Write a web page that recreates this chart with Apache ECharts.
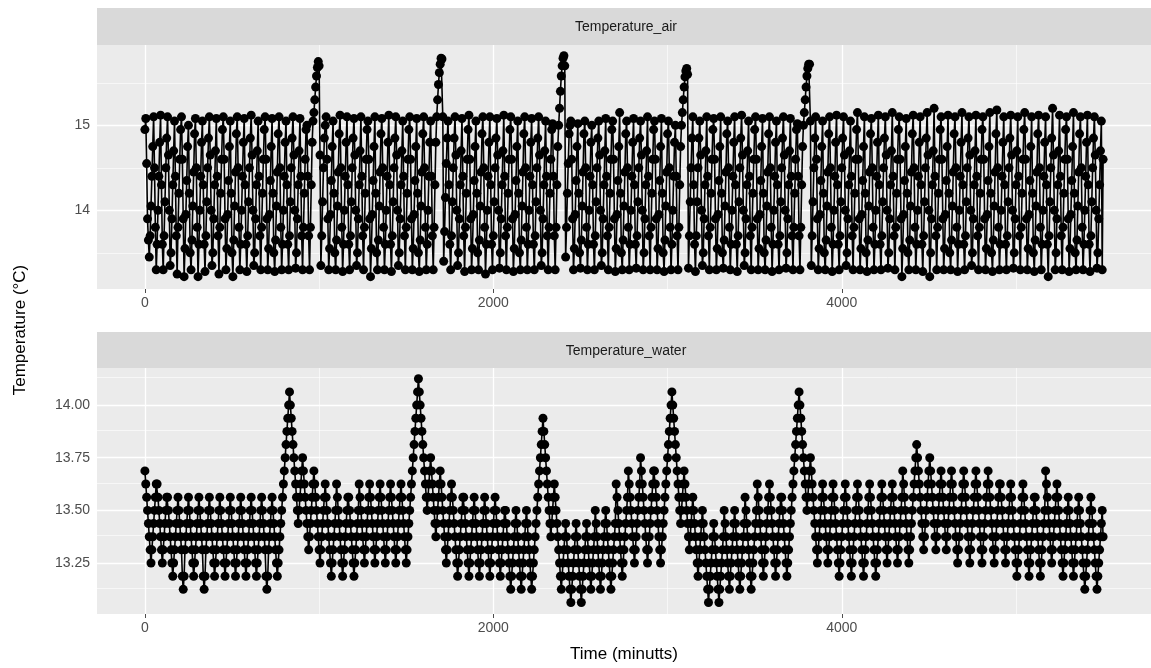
<!DOCTYPE html>
<html>
<head>
<meta charset="utf-8">
<script src="https://cdn.jsdelivr.net/npm/echarts@6/dist/echarts.min.js"></script>
<style>
html,body{margin:0;padding:0;background:#ffffff;}
#chart{width:1151px;height:668px;}
</style>
</head>
<body>
<div id="chart"></div>
<script>
// ---------------- data ----------------
const panelTitles = ['Temperature_air', 'Temperature_water'];
const xAxisTitle = 'Time (minutts)';
const yAxisTitle = 'Temperature (°C)';
const sampleStepMinutes = 5;   // one reading every 5 minutes, starting at minute 0

const airTemperature = [
  14.95, 15.08, 14.55, 13.9, 13.65, 13.45, 13.7, 14.05, 14.4, 14.75,
  15.1, 14.5, 13.8, 13.3, 13.6, 14.0, 14.4, 14.8,  15.12, 14.3, 13.6, 13.3, 13.7, 14.1, 14.5, 14.85,
  15.1, 14.65, 14.0, 13.35, 13.5, 13.9, 14.3, 14.7,  15.05, 14.4, 13.7, 13.25, 13.8, 14.2, 14.6, 14.95,
  15.1, 14.6, 13.9, 13.22, 13.55, 13.95, 14.35, 14.75,  15.0, 14.2, 13.5, 13.3, 13.65, 14.05, 14.45, 14.9,
  15.08, 14.5, 13.8, 13.22, 13.6, 14.0, 14.4, 14.8,  15.05, 14.3, 13.6, 13.28, 13.7, 14.1, 14.5, 14.85,
  15.1, 14.65, 14.0, 13.35, 13.5, 13.9, 14.3, 14.7,  15.08, 14.4, 13.7, 13.25, 13.8, 14.2, 14.6, 14.95,
  15.1, 14.6, 13.9, 13.3, 13.55, 13.95, 14.35, 14.75,  15.05, 14.2, 13.5, 13.22, 13.65, 14.05, 14.45, 14.9,
  15.1, 14.5, 13.8, 13.3, 13.6, 14.0, 14.4, 14.8,  15.08, 14.3, 13.6, 13.28, 13.7, 14.1, 14.5, 14.85,
  15.12, 14.65, 14.0, 13.35, 13.5, 13.9, 14.3, 14.7,  15.05, 14.4, 13.7, 13.3, 13.8, 14.2, 14.6, 14.95,
  15.1, 14.6, 13.9, 13.3, 13.55, 13.95, 14.35, 14.75,  15.08, 14.2, 13.5, 13.28, 13.65, 14.05, 14.45, 14.9,
  15.1, 14.5, 13.8, 13.3, 13.6, 14.0, 14.4, 14.8,  15.05, 14.3, 13.6, 13.3, 13.7, 14.1, 14.5, 14.85,
  15.1, 14.65, 14.0, 13.32, 13.5, 13.9, 14.3, 14.7,  15.08, 14.4, 13.7, 13.3, 13.8, 14.2, 14.6, 14.95,
  // first defrost peak (~990 min)
  15.0, 14.4, 13.7, 13.3, 13.8, 14.3, 14.8, 15.05, 15.15, 15.3, 15.45, 15.58, 15.68, 15.75, 15.7,
  14.65, 13.35, 13.7, 14.1, 14.5, 14.85, 15.0,
  15.1, 14.6, 13.9, 13.3, 13.55, 13.95, 14.35, 14.75,  15.05, 14.2, 13.5, 13.3, 13.65, 14.05, 14.45, 14.9,
  15.12, 14.5, 13.8, 13.28, 13.6, 14.0, 14.4, 14.8,  15.1, 14.3, 13.6, 13.3, 13.7, 14.1, 14.5, 14.85,
  15.08, 14.65, 14.0, 13.35, 13.5, 13.9, 14.3, 14.7,  15.1, 14.4, 13.7, 13.3, 13.8, 14.2, 14.6, 14.95,
  15.05, 14.6, 13.9, 13.22, 13.55, 13.95, 14.35, 14.75,  15.1, 14.2, 13.5, 13.3, 13.65, 14.05, 14.45, 14.9,
  15.08, 14.5, 13.8, 13.3, 13.6, 14.0, 14.4, 14.8,  15.12, 14.3, 13.6, 13.28, 13.7, 14.1, 14.5, 14.85,
  15.1, 14.65, 14.0, 13.35, 13.5, 13.9, 14.3, 14.7,  15.05, 14.4, 13.7, 13.3, 13.8, 14.2, 14.6, 14.95,
  15.1, 14.6, 13.9, 13.3, 13.55, 13.95, 14.35, 14.75,  15.08, 14.2, 13.5, 13.28, 13.65, 14.05, 14.45, 14.9,
  15.1, 14.5, 13.8, 13.3, 13.6, 14.0, 14.4, 14.8,
  // second peak (~1700 min)
  15.05, 14.4, 13.7, 13.3, 13.8, 14.3, 14.8, 15.1, 15.3, 15.48, 15.62, 15.72, 15.79, 15.78,
  15.1, 13.4, 13.75, 14.15, 14.55, 14.85,
  15.05, 14.3, 13.6, 13.3, 13.7, 14.1, 14.5, 14.85,  15.1, 14.65, 14.0, 13.35, 13.5, 13.9, 14.3, 14.7,
  15.08, 14.4, 13.7, 13.28, 13.8, 14.2, 14.6, 14.95,  15.12, 14.6, 13.9, 13.3, 13.55, 13.95, 14.35, 14.75,
  15.05, 14.2, 13.5, 13.3, 13.65, 14.05, 14.45, 14.9,  15.1, 14.5, 13.8, 13.25, 13.6, 14.0, 14.4, 14.8,
  15.1, 14.3, 13.6, 13.3, 13.7, 14.1, 14.5, 14.85,  15.08, 14.65, 14.0, 13.32, 13.5, 13.9, 14.3, 14.7,
  15.12, 14.4, 13.7, 13.3, 13.8, 14.2, 14.6, 14.95,  15.1, 14.6, 13.9, 13.28, 13.55, 13.95, 14.35, 14.75,
  15.05, 14.2, 13.5, 13.3, 13.65, 14.05, 14.45, 14.9,  15.1, 14.5, 13.8, 13.3, 13.6, 14.0, 14.4, 14.8,
  15.08, 14.3, 13.6, 13.3, 13.7, 14.1, 14.5, 14.85,  15.1, 14.65, 14.0, 13.35, 13.5, 13.9, 14.3, 14.7,
  15.05, 14.4, 13.7, 13.3, 13.8, 14.2, 14.6, 14.95,
  // third peak (~2405 min)
  15.02, 14.4, 13.7, 13.3, 13.8, 14.3, 14.75, 15.0, 15.2, 15.4, 15.58, 15.7, 15.79, 15.82, 15.7,
  13.45, 13.8, 14.2, 14.55, 14.9, 15.0,
  15.05, 14.6, 13.9, 13.3, 13.55, 13.95, 14.35, 14.75,  15.02, 14.2, 13.5, 13.32, 13.65, 14.05, 14.45, 14.9,
  15.05, 14.5, 13.8, 13.3, 13.6, 14.0, 14.4, 14.8,  15.0, 14.3, 13.6, 13.3, 13.7, 14.1, 14.5, 14.85,
  15.05, 14.65, 14.0, 13.35, 13.5, 13.9, 14.3, 14.7,  15.08, 14.4, 13.7, 13.3, 13.8, 14.2, 14.6, 14.95,
  15.05, 14.6, 13.9, 13.28, 13.55, 13.95, 14.35, 14.75,  15.15, 14.2, 13.5, 13.3, 13.65, 14.05, 14.45, 14.9,
  15.05, 14.5, 13.8, 13.3, 13.6, 14.0, 14.4, 14.8,  15.08, 14.3, 13.6, 13.32, 13.7, 14.1, 14.5, 14.85,
  15.05, 14.65, 14.0, 13.3, 13.5, 13.9, 14.3, 14.7,  15.1, 14.4, 13.7, 13.3, 13.8, 14.2, 14.6, 14.95,
  15.05, 14.6, 13.9, 13.3, 13.55, 13.95, 14.35, 14.75,  15.08, 14.2, 13.5, 13.28, 13.65, 14.05, 14.45, 14.9,
  15.05, 14.5, 13.8, 13.3, 13.6, 14.0, 14.4, 14.8,
  // fourth peak (~3110 min)
  15.0, 14.4, 13.7, 13.3, 13.8, 14.3, 14.75, 15.0, 15.15, 15.3, 15.45, 15.57, 15.64, 15.67, 15.6,
  13.32, 13.7, 14.1, 14.5, 14.85,
  15.1, 14.3, 13.6, 13.28, 13.7, 14.1, 14.5, 14.85,  15.05, 14.65, 14.0, 13.35, 13.5, 13.9, 14.3, 14.7,
  15.1, 14.4, 13.7, 13.3, 13.8, 14.2, 14.6, 14.95,  15.08, 14.6, 13.9, 13.3, 13.55, 13.95, 14.35, 14.75,
  15.1, 14.2, 13.5, 13.32, 13.65, 14.05, 14.45, 14.9,  15.05, 14.5, 13.8, 13.3, 13.6, 14.0, 14.4, 14.8,
  15.1, 14.3, 13.6, 13.28, 13.7, 14.1, 14.5, 14.85,  15.12, 14.65, 14.0, 13.35, 13.5, 13.9, 14.3, 14.7,
  15.05, 14.4, 13.7, 13.3, 13.8, 14.2, 14.6, 14.95,  15.1, 14.6, 13.9, 13.3, 13.55, 13.95, 14.35, 14.75,
  15.08, 14.2, 13.5, 13.3, 13.65, 14.05, 14.45, 14.9,  15.1, 14.5, 13.8, 13.28, 13.6, 14.0, 14.4, 14.8,
  15.05, 14.3, 13.6, 13.3, 13.7, 14.1, 14.5, 14.85,  15.1, 14.65, 14.0, 13.32, 13.5, 13.9, 14.3, 14.7,
  15.08, 14.4, 13.7, 13.3, 13.8, 14.2, 14.6, 14.95,
  // fifth peak (~3815 min)
  15.02, 14.4, 13.7, 13.3, 13.8, 14.3, 14.75, 15.0, 15.15, 15.3, 15.45, 15.58, 15.67, 15.72, 15.72,
  15.05, 13.35, 13.7, 14.1, 14.5, 14.85,
  15.1, 14.6, 13.9, 13.3, 13.55, 13.95, 14.35, 14.75,  15.05, 14.2, 13.5, 13.3, 13.65, 14.05, 14.45, 14.9,
  15.1, 14.5, 13.8, 13.28, 13.6, 14.0, 14.4, 14.8,  15.12, 14.3, 13.6, 13.3, 13.7, 14.1, 14.5, 14.85,
  15.1, 14.65, 14.0, 13.35, 13.5, 13.9, 14.3, 14.7,  15.05, 14.4, 13.7, 13.3, 13.8, 14.2, 14.6, 14.95,
  15.15, 14.6, 13.9, 13.3, 13.55, 13.95, 14.35, 14.75,  15.1, 14.2, 13.5, 13.28, 13.65, 14.05, 14.45, 14.9,
  15.08, 14.5, 13.8, 13.3, 13.6, 14.0, 14.4, 14.8,  15.12, 14.3, 13.6, 13.3, 13.7, 14.1, 14.5, 14.85,
  15.1, 14.65, 14.0, 13.32, 13.5, 13.9, 14.3, 14.7,  15.15, 14.4, 13.7, 13.3, 13.8, 14.2, 14.6, 14.95,
  15.1, 14.6, 13.9, 13.22, 13.55, 13.95, 14.35, 14.75,  15.08, 14.2, 13.5, 13.3, 13.65, 14.05, 14.45, 14.9,
  15.12, 14.5, 13.8, 13.3, 13.6, 14.0, 14.4, 14.8,  15.1, 14.3, 13.6, 13.28, 13.7, 14.1, 14.5, 14.85,
  15.15, 14.65, 14.0, 13.22, 13.5, 13.9, 14.3, 14.7,  15.2, 14.4, 13.7, 13.3, 13.8, 14.2, 14.6, 14.95,
  15.1, 14.6, 13.9, 13.3, 13.55, 13.95, 14.35, 14.75,  15.12, 14.2, 13.5, 13.3, 13.65, 14.05, 14.45, 14.9,
  15.1, 14.5, 13.8, 13.28, 13.6, 14.0, 14.4, 14.8,  15.15, 14.3, 13.6, 13.3, 13.7, 14.1, 14.5, 14.85,
  15.1, 14.65, 14.0, 13.35, 13.5, 13.9, 14.3, 14.7,  15.12, 14.4, 13.7, 13.3, 13.8, 14.2, 14.6, 14.95,
  15.1, 14.6, 13.9, 13.3, 13.55, 13.95, 14.35, 14.75,  15.15, 14.2, 13.5, 13.28, 13.65, 14.05, 14.45, 14.9,
  15.18, 14.5, 13.8, 13.3, 13.6, 14.0, 14.4, 14.8,  15.1, 14.3, 13.6, 13.3, 13.7, 14.1, 14.5, 14.85,
  15.12, 14.65, 14.0, 13.32, 13.5, 13.9, 14.3, 14.7,  15.1, 14.4, 13.7, 13.3, 13.8, 14.2, 14.6, 14.95,
  15.15, 14.6, 13.9, 13.3, 13.55, 13.95, 14.35, 14.75,  15.1, 14.2, 13.5, 13.28, 13.65, 14.05, 14.45, 14.9,
  15.12, 14.5, 13.8, 13.3, 13.6, 14.0, 14.4, 14.8,  15.1, 14.3, 13.6, 13.22, 13.7, 14.1, 14.5, 14.85,
  15.2, 14.65, 14.0, 13.3, 13.5, 13.9, 14.3, 14.7,  15.12, 14.4, 13.7, 13.3, 13.8, 14.2, 14.6, 14.95,
  15.1, 14.6, 13.9, 13.28, 13.55, 13.95, 14.35, 14.75,  15.15, 14.2, 13.5, 13.3, 13.65, 14.05, 14.45, 14.9,
  15.1, 14.5, 13.8, 13.3, 13.6, 14.0, 14.4, 14.8,  15.12, 14.3, 13.6, 13.28, 13.7, 14.1, 14.5, 14.85,
  15.1, 14.65, 14.0, 13.32, 13.5, 13.9, 14.3, 14.7,
  15.05, 13.3, 14.6
];

const waterTemperature = [
  13.6875, 13.625, 13.5625, 13.5, 13.4375, 13.375, 13.3125, 13.25, 13.3125, 13.375, 13.4375, 13.5, 13.5625, 13.625,
  13.625, 13.5625, 13.5, 13.4375, 13.375, 13.3125, 13.25, 13.3125, 13.375, 13.4375, 13.5, 13.5625,
  13.5625, 13.5, 13.4375, 13.375, 13.3125, 13.25, 13.1875, 13.25, 13.3125, 13.375, 13.4375, 13.5,
  13.5625, 13.5, 13.4375, 13.375, 13.3125, 13.1875, 13.125, 13.1875, 13.3125, 13.375, 13.4375, 13.5,
  13.5625, 13.5, 13.4375, 13.375, 13.3125, 13.25, 13.1875, 13.25, 13.3125, 13.375, 13.4375, 13.5,
  13.5625, 13.5, 13.4375, 13.375, 13.3125, 13.1875, 13.125, 13.1875, 13.3125, 13.375, 13.4375, 13.5,
  13.5625, 13.5, 13.4375, 13.375, 13.3125, 13.25, 13.1875, 13.25, 13.3125, 13.375, 13.4375, 13.5,
  13.5625, 13.5, 13.4375, 13.375, 13.3125, 13.25, 13.1875, 13.25, 13.3125, 13.375, 13.4375, 13.5,
  13.5625, 13.5, 13.4375, 13.375, 13.3125, 13.25, 13.1875, 13.25, 13.3125, 13.375, 13.4375, 13.5,
  13.5625, 13.5, 13.4375, 13.375, 13.3125, 13.25, 13.1875, 13.25, 13.3125, 13.375, 13.4375, 13.5,
  13.5625, 13.5, 13.4375, 13.375, 13.3125, 13.25, 13.1875, 13.25, 13.3125, 13.375, 13.4375, 13.5,
  13.5625, 13.5, 13.4375, 13.375, 13.3125, 13.1875, 13.125, 13.1875, 13.3125, 13.375, 13.4375, 13.5,
  13.5625, 13.5, 13.4375, 13.375, 13.3125, 13.25, 13.1875, 13.25, 13.3125, 13.375, 13.4375, 13.5,
  // first peak (~830 min)
  13.5625, 13.625, 13.6875, 13.75, 13.8125, 13.875, 13.9375, 14, 14.0625,
  14, 13.9375, 13.875, 13.8125, 13.75, 13.6875, 13.625, 13.5625, 13.5, 13.4375,
  13.5, 13.5625, 13.625, 13.6875, 13.75,
  13.6875, 13.625, 13.5625, 13.5, 13.4375, 13.375, 13.3125,
  13.375, 13.4375, 13.5, 13.5625, 13.625, 13.6875,
  13.625, 13.5625, 13.5, 13.4375, 13.375, 13.3125, 13.25,
  13.3125, 13.375, 13.4375, 13.5, 13.5625, 13.625,
  13.5625, 13.5, 13.4375, 13.375, 13.3125, 13.25, 13.1875, 13.25, 13.3125, 13.375, 13.4375, 13.5,
  13.625, 13.5625, 13.5, 13.4375, 13.375, 13.3125, 13.25, 13.1875, 13.25, 13.3125, 13.375, 13.4375, 13.5, 13.5625,
  13.5625, 13.5, 13.4375, 13.375, 13.3125, 13.25, 13.1875, 13.25, 13.3125, 13.375, 13.4375, 13.5,
  13.625, 13.5625, 13.5, 13.4375, 13.375, 13.3125, 13.25, 13.3125, 13.375, 13.4375, 13.5, 13.5625,
  13.625, 13.5625, 13.5, 13.4375, 13.375, 13.3125, 13.25, 13.3125, 13.375, 13.4375, 13.5, 13.5625,
  13.625, 13.5625, 13.5, 13.4375, 13.375, 13.3125, 13.25, 13.3125, 13.375, 13.4375, 13.5, 13.5625,
  13.625, 13.5625, 13.5, 13.4375, 13.375, 13.3125, 13.25, 13.3125, 13.375, 13.4375, 13.5, 13.5625,
  13.625, 13.5625, 13.5, 13.4375, 13.375, 13.3125, 13.25, 13.3125, 13.375, 13.4375, 13.5, 13.5625,
  // second peak (~1570 min)
  13.625, 13.6875, 13.75, 13.8125, 13.875, 13.9375, 14, 14.0625, 14.125,
  14.0625, 14, 13.9375, 13.875, 13.8125, 13.75, 13.6875, 13.625, 13.5625, 13.5,
  13.5625, 13.625, 13.6875, 13.75,
  13.6875, 13.625, 13.5625, 13.5, 13.4375, 13.375,
  13.4375, 13.5, 13.5625, 13.625, 13.6875,
  13.625, 13.5625, 13.5, 13.4375, 13.375, 13.3125, 13.25,
  13.3125, 13.375, 13.4375, 13.5, 13.5625,
  13.625, 13.5625, 13.5, 13.4375, 13.375, 13.3125, 13.25, 13.1875, 13.25, 13.3125, 13.375, 13.4375, 13.5, 13.5625,
  13.5625, 13.5, 13.4375, 13.375, 13.3125, 13.25, 13.1875, 13.25, 13.3125, 13.375, 13.4375, 13.5,
  13.5625, 13.5, 13.4375, 13.375, 13.3125, 13.25, 13.1875, 13.25, 13.3125, 13.375, 13.4375, 13.5,
  13.5625, 13.5, 13.4375, 13.375, 13.3125, 13.25, 13.1875, 13.25, 13.3125, 13.375, 13.4375, 13.5,
  13.5625, 13.5, 13.4375, 13.375, 13.3125, 13.25, 13.1875, 13.25, 13.3125, 13.375, 13.4375, 13.5,
  13.5, 13.4375, 13.375, 13.3125, 13.25, 13.1875, 13.125, 13.1875, 13.25, 13.3125, 13.375, 13.4375,
  13.5, 13.4375, 13.375, 13.3125, 13.25, 13.1875, 13.125, 13.1875, 13.25, 13.3125, 13.375, 13.4375,
  13.5, 13.4375, 13.375, 13.3125, 13.25, 13.1875, 13.125, 13.1875, 13.25, 13.3125, 13.375, 13.4375,
  // third peak (~2285 min)
  13.5, 13.5625, 13.625, 13.6875, 13.75, 13.8125, 13.875, 13.9375,
  13.875, 13.8125, 13.75, 13.6875, 13.625, 13.5625, 13.5, 13.4375, 13.375,
  13.4375, 13.5, 13.5625, 13.625,
  13.5625, 13.5, 13.4375, 13.375, 13.3125, 13.25, 13.1875, 13.125,
  13.1875, 13.25, 13.3125, 13.375,
  13.4375, 13.375, 13.3125, 13.25, 13.1875, 13.125, 13.0625, 13.125, 13.1875, 13.25, 13.3125, 13.375,
  13.4375, 13.375, 13.3125, 13.25, 13.1875, 13.125, 13.0625, 13.125, 13.1875, 13.25, 13.3125, 13.375,
  13.4375, 13.375, 13.3125, 13.25, 13.1875, 13.125, 13.1875, 13.25, 13.3125, 13.375,
  13.5, 13.4375, 13.375, 13.3125, 13.25, 13.1875, 13.125, 13.1875, 13.25, 13.3125, 13.375, 13.4375,
  13.5, 13.4375, 13.375, 13.3125, 13.25, 13.1875, 13.125, 13.1875, 13.25, 13.3125, 13.375, 13.4375,
  13.625, 13.5625, 13.5, 13.4375, 13.375, 13.3125, 13.25, 13.1875, 13.25, 13.3125, 13.375, 13.4375, 13.5, 13.5625,
  13.6875, 13.625, 13.5625, 13.5, 13.4375, 13.375, 13.3125, 13.25, 13.3125, 13.375, 13.4375, 13.5, 13.5625, 13.625,
  13.75, 13.6875, 13.625, 13.5625, 13.5, 13.4375, 13.375, 13.3125, 13.25, 13.3125, 13.375, 13.4375, 13.5, 13.5625, 13.625, 13.6875,
  13.6875, 13.625, 13.5625, 13.5, 13.4375, 13.375, 13.3125, 13.25, 13.3125, 13.375, 13.4375, 13.5, 13.5625, 13.625,
  // fourth peak (~3025 min)
  13.6875, 13.75, 13.8125, 13.875, 13.9375, 14, 14.0625,
  14, 13.9375, 13.875, 13.8125, 13.75, 13.6875, 13.625, 13.5625, 13.5, 13.4375,
  13.5, 13.5625, 13.625, 13.6875,
  13.625, 13.5625, 13.5, 13.4375, 13.375, 13.3125,
  13.375, 13.4375, 13.5, 13.5625,
  13.5, 13.4375, 13.375, 13.3125, 13.25, 13.1875,
  13.25, 13.3125, 13.375, 13.4375, 13.5,
  13.4375, 13.375, 13.3125, 13.25, 13.1875, 13.125, 13.0625, 13.125, 13.1875, 13.25, 13.3125, 13.375,
  13.4375, 13.375, 13.3125, 13.25, 13.1875, 13.125, 13.0625, 13.125, 13.1875, 13.25, 13.3125, 13.375,
  13.5, 13.4375, 13.375, 13.3125, 13.25, 13.1875, 13.125, 13.1875, 13.25, 13.3125, 13.375, 13.4375,
  13.5, 13.4375, 13.375, 13.3125, 13.25, 13.1875, 13.125, 13.1875, 13.25, 13.3125, 13.375, 13.4375,
  13.5625, 13.5, 13.4375, 13.375, 13.3125, 13.25, 13.1875, 13.125, 13.1875, 13.25, 13.3125, 13.375, 13.4375, 13.5,
  13.625, 13.5625, 13.5, 13.4375, 13.375, 13.3125, 13.25, 13.1875, 13.25, 13.3125, 13.375, 13.4375, 13.5, 13.5625,
  13.625, 13.5625, 13.5, 13.4375, 13.375, 13.3125, 13.25, 13.1875, 13.25, 13.3125, 13.375, 13.4375, 13.5, 13.5625,
  13.5625, 13.5, 13.4375, 13.375, 13.3125, 13.25, 13.1875, 13.25, 13.3125, 13.375, 13.4375, 13.5,
  // fifth peak (~3755 min)
  13.5625, 13.625, 13.6875, 13.75, 13.8125, 13.875, 13.9375, 14, 14.0625,
  14, 13.9375, 13.875, 13.8125, 13.75, 13.6875, 13.625, 13.5625, 13.5,
  13.5625, 13.625, 13.6875, 13.75,
  13.6875, 13.625, 13.5625, 13.5, 13.4375, 13.375, 13.3125, 13.25,
  13.3125, 13.375, 13.4375, 13.5, 13.5625,
  13.625, 13.5625, 13.5, 13.4375, 13.375, 13.3125, 13.25, 13.3125, 13.375, 13.4375, 13.5, 13.5625,
  13.625, 13.5625, 13.5, 13.4375, 13.375, 13.3125, 13.25, 13.1875, 13.25, 13.3125, 13.375, 13.4375, 13.5, 13.5625,
  13.625, 13.5625, 13.5, 13.4375, 13.375, 13.3125, 13.25, 13.1875, 13.25, 13.3125, 13.375, 13.4375, 13.5, 13.5625,
  13.625, 13.5625, 13.5, 13.4375, 13.375, 13.3125, 13.25, 13.1875, 13.25, 13.3125, 13.375, 13.4375, 13.5, 13.5625,
  13.625, 13.5625, 13.5, 13.4375, 13.375, 13.3125, 13.25, 13.1875, 13.25, 13.3125, 13.375, 13.4375, 13.5, 13.5625,
  13.625, 13.5625, 13.5, 13.4375, 13.375, 13.3125, 13.25, 13.3125, 13.375, 13.4375, 13.5, 13.5625,
  13.625, 13.5625, 13.5, 13.4375, 13.375, 13.3125, 13.25, 13.3125, 13.375, 13.4375, 13.5, 13.5625,
  13.6875, 13.625, 13.5625, 13.5, 13.4375, 13.375, 13.3125, 13.25, 13.3125, 13.375, 13.4375, 13.5, 13.5625, 13.625,
  // small bump (~4440 min)
  13.6875, 13.75, 13.8125,
  13.75, 13.6875, 13.625, 13.5625, 13.5, 13.4375, 13.375, 13.3125,
  13.375, 13.4375, 13.5, 13.5625, 13.625, 13.6875, 13.75,
  13.6875, 13.625, 13.5625, 13.5, 13.4375, 13.375, 13.3125,
  13.375, 13.4375, 13.5, 13.5625, 13.625,
  13.6875, 13.625, 13.5625, 13.5, 13.4375, 13.375, 13.3125, 13.375, 13.4375, 13.5, 13.5625, 13.625,
  13.6875, 13.625, 13.5625, 13.5, 13.4375, 13.375, 13.3125, 13.25, 13.3125, 13.375, 13.4375, 13.5, 13.5625, 13.625,
  13.6875, 13.625, 13.5625, 13.5, 13.4375, 13.375, 13.3125, 13.25, 13.3125, 13.375, 13.4375, 13.5, 13.5625, 13.625,
  13.6875, 13.625, 13.5625, 13.5, 13.4375, 13.375, 13.3125, 13.25, 13.3125, 13.375, 13.4375, 13.5, 13.5625, 13.625,
  13.6875, 13.625, 13.5625, 13.5, 13.4375, 13.375, 13.3125, 13.25, 13.3125, 13.375, 13.4375, 13.5, 13.5625, 13.625,
  13.625, 13.5625, 13.5, 13.4375, 13.375, 13.3125, 13.25, 13.3125, 13.375, 13.4375, 13.5, 13.5625,
  13.625, 13.5625, 13.5, 13.4375, 13.375, 13.3125, 13.25, 13.1875, 13.25, 13.3125, 13.375, 13.4375, 13.5, 13.5625,
  13.625, 13.5625, 13.5, 13.4375, 13.375, 13.3125, 13.25, 13.1875, 13.25, 13.3125, 13.375, 13.4375, 13.5, 13.5625,
  13.5625, 13.5, 13.4375, 13.375, 13.3125, 13.25, 13.1875, 13.25, 13.3125, 13.375, 13.4375, 13.5,
  13.6875, 13.625, 13.5625, 13.5, 13.4375, 13.375, 13.3125, 13.25, 13.3125, 13.375, 13.4375, 13.5, 13.5625, 13.625,
  13.5625, 13.5, 13.4375, 13.375, 13.3125, 13.25, 13.1875, 13.25, 13.3125, 13.375, 13.4375, 13.5,
  13.5625, 13.5, 13.4375, 13.375, 13.3125, 13.25, 13.1875, 13.25, 13.3125, 13.375, 13.4375, 13.5,
  13.5625, 13.5, 13.4375, 13.375, 13.3125, 13.25, 13.1875, 13.125, 13.1875, 13.25, 13.3125, 13.375, 13.4375, 13.5,
  13.5625, 13.5, 13.4375, 13.375, 13.3125, 13.25, 13.1875, 13.125, 13.1875, 13.25, 13.3125, 13.375, 13.4375, 13.5,
  13.375
];

const xTicks = [0, 2000, 4000];
const xMinorBreaks = [1000, 3000, 5000];
const airYTicks = [14, 15];
const airYMinorBreaks = [13.5, 14.5, 15.5];
const waterYTicks = [13.25, 13.5, 13.75, 14.0];
const waterYMinorBreaks = [13.125, 13.375, 13.625, 13.875, 14.125];

// ---------------- layout / style ----------------
const PANEL_LEFT = 97, PANEL_WIDTH = 1058;
const AIR_TOP = 45, AIR_H = 244;
const WATER_TOP = 368, WATER_H = 246;
const X_MIN = -275, X_MAX = 5775;
const AIR_MIN = 13.075, AIR_MAX = 15.945;
const WATER_MIN = 13.008, WATER_MAX = 14.176;
const FONT = '"Liberation Sans", Arial, sans-serif';
const TICK_COLOR = '#4d4d4d';

function toPairs(values) {
  return values.map((v, i) => [i * sampleStepMinutes, v]);
}

function gridLines(xMajor, xMinor, yMajor, yMinor) {
  const major = { color: '#ffffff', width: 1.3, type: 'solid' };
  const minor = { color: '#ffffff', width: 0.6, type: 'solid' };
  const d = [];
  yMinor.forEach(v => d.push({ yAxis: v, lineStyle: minor }));
  xMinor.forEach(v => d.push({ xAxis: v, lineStyle: minor }));
  yMajor.forEach(v => d.push({ yAxis: v, lineStyle: major }));
  xMajor.forEach(v => d.push({ xAxis: v, lineStyle: major }));
  return d;
}

function xAxisDef(gridIndex, withName) {
  const ax = {
    type: 'value', gridIndex: gridIndex, min: X_MIN, max: X_MAX,
    axisLine: { show: false },
    axisTick: { show: true, customValues: xTicks, length: 4, lineStyle: { color: TICK_COLOR, width: 1 } },
    axisLabel: { show: true, customValues: xTicks, color: TICK_COLOR, fontSize: 14, fontFamily: FONT, margin: 7,
                 formatter: v => String(v) },
    splitLine: { show: false }
  };
  if (withName) {
    ax.name = xAxisTitle;
    ax.nameLocation = 'middle';
    ax.nameGap = 32;
    ax.nameTextStyle = { color: '#000000', fontSize: 17, fontFamily: FONT };
  }
  return ax;
}

function yAxisDef(gridIndex, min, max, ticks, fmt) {
  return {
    type: 'value', gridIndex: gridIndex, min: min, max: max,
    axisLine: { show: false },
    axisTick: { show: true, customValues: ticks, length: 4, lineStyle: { color: TICK_COLOR, width: 1 } },
    axisLabel: { show: true, customValues: ticks, color: TICK_COLOR, fontSize: 14, fontFamily: FONT, margin: 7,
                 formatter: fmt },
    splitLine: { show: false }
  };
}

function dataSeries(idx, values) {
  return {
    type: 'line', xAxisIndex: idx, yAxisIndex: idx,
    data: toPairs(values),
    symbol: 'circle', symbolSize: 9, showSymbol: true,
    itemStyle: { color: '#000000' },
    lineStyle: { color: '#000000', width: 1.6 },
    z: 3, silent: true, animation: false
  };
}

function gridSeries(idx, yMajor, yMinor) {
  return {
    type: 'line', xAxisIndex: idx, yAxisIndex: idx, data: [], z: 1, silent: true,
    markLine: { silent: true, symbol: ['none', 'none'], label: { show: false }, z: 1, animation: false,
                data: gridLines(xTicks, xMinorBreaks, yMajor, yMinor) }
  };
}

const chart = echarts.init(document.getElementById('chart'), null, { renderer: 'canvas' });

chart.setOption({
  animation: false,
  backgroundColor: '#ffffff',
  grid: [
    { left: PANEL_LEFT, top: AIR_TOP, width: PANEL_WIDTH, height: AIR_H, show: true,
      backgroundColor: '#ebebeb', borderWidth: 0, containLabel: false },
    { left: PANEL_LEFT, top: WATER_TOP, width: PANEL_WIDTH, height: WATER_H, show: true,
      backgroundColor: '#ebebeb', borderWidth: 0, containLabel: false }
  ],
  xAxis: [xAxisDef(0, false), xAxisDef(1, true)],
  yAxis: [
    yAxisDef(0, AIR_MIN, AIR_MAX, airYTicks, v => String(Math.round(v))),
    yAxisDef(1, WATER_MIN, WATER_MAX, waterYTicks, v => v.toFixed(2))
  ],
  series: [
    gridSeries(0, airYTicks, airYMinorBreaks),
    gridSeries(1, waterYTicks, waterYMinorBreaks),
    dataSeries(0, airTemperature),
    dataSeries(1, waterTemperature)
  ],
  graphic: [
    { type: 'rect', shape: { x: PANEL_LEFT, y: 8, width: PANEL_WIDTH, height: 37 },
      style: { fill: '#d9d9d9' }, silent: true, z: 0 },
    { type: 'text', x: 626, y: 27, silent: true, z: 1,
      style: { text: panelTitles[0], fill: '#1a1a1a', font: '14px ' + FONT, textAlign: 'center', textVerticalAlign: 'middle' } },
    { type: 'rect', shape: { x: PANEL_LEFT, y: 332, width: PANEL_WIDTH, height: 36 },
      style: { fill: '#d9d9d9' }, silent: true, z: 0 },
    { type: 'text', x: 626, y: 351, silent: true, z: 1,
      style: { text: panelTitles[1], fill: '#1a1a1a', font: '14px ' + FONT, textAlign: 'center', textVerticalAlign: 'middle' } },
    { type: 'text', x: 20, y: 330, rotation: Math.PI / 2, silent: true, z: 1,
      style: { text: yAxisTitle, fill: '#000000', font: '17px ' + FONT, textAlign: 'center', textVerticalAlign: 'middle' } }
  ]
});
</script>
</body>
</html>
